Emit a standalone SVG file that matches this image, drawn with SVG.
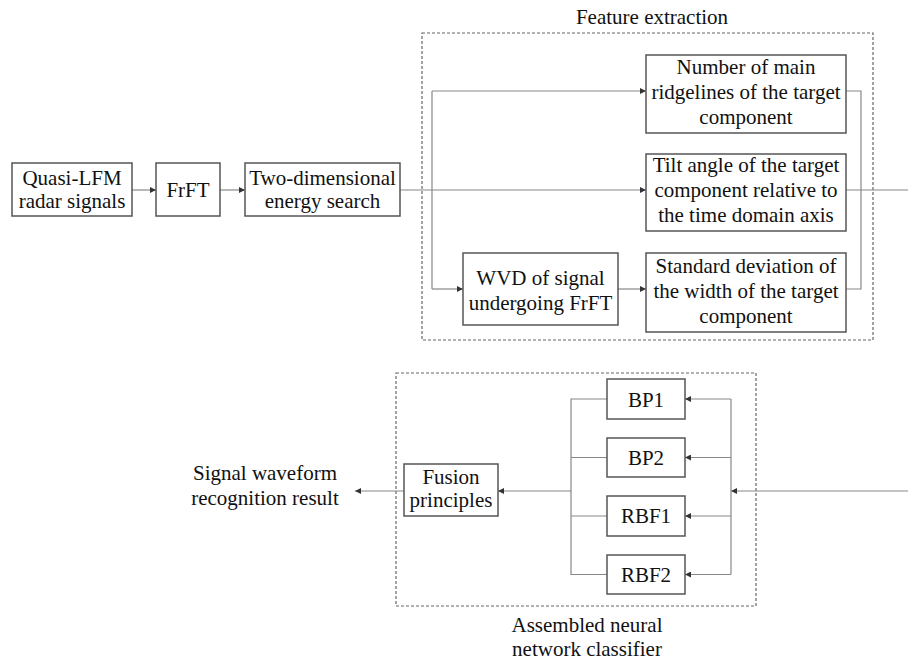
<svg xmlns="http://www.w3.org/2000/svg" width="908" height="662" viewBox="0 0 908 662">
  <defs>
    <marker id="arrow" viewBox="0 0 10 10" refX="10" refY="5" markerWidth="7" markerHeight="6" markerUnits="userSpaceOnUse" orient="auto">
      <path d="M0,0 L10,5 L0,10 z" fill="#333"/>
    </marker>
    <style>
      .box { fill: #fff; stroke: #555; stroke-width: 1.5; }
      .group { fill: none; stroke: #666; stroke-width: 1.2; stroke-dasharray: 3 2; }
      .line { fill: none; stroke: #888; stroke-width: 1.2; }
      .arr { marker-end: url(#arrow); }
      text { font-family: "Liberation Serif", "Times New Roman", serif; font-size: 21px; fill: #111; text-anchor: middle; }
    </style>
  </defs>
  <rect width="908" height="662" fill="#fff"/>

  <!-- dashed grouping frames -->
  <g id="feature-extraction">
    <rect class="group" x="422" y="33" width="451" height="307"/>
    <text x="652" y="24">Feature extraction</text>
  </g>
  <g id="classifier">
    <rect class="group" x="396" y="373" width="360" height="233"/>
    <text x="587" y="632">Assembled neural</text>
    <text x="587" y="656">network classifier</text>
  </g>

  <!-- connectors -->
  <g id="connectors">
    <path class="line arr" d="M132,190 H156"/>
    <path class="line arr" d="M220,190 H245"/>
    <path class="line arr" d="M400,190 H646"/>
    <path class="line" d="M432,91 V289"/>
    <path class="line arr" d="M432,91 H646"/>
    <path class="line arr" d="M432,289 H463"/>
    <path class="line arr" d="M618,289 H646"/>
    <path class="line" d="M846,91 H861 V289 H846"/>
    <path class="line" d="M846,190 H908"/>

    <path class="line arr" d="M908,491 H731"/>
    <path class="line" d="M731,399 V574.5"/>
    <path class="line arr" d="M731,399 H685"/>
    <path class="line arr" d="M731,457.5 H685"/>
    <path class="line arr" d="M731,516 H685"/>
    <path class="line arr" d="M731,574.5 H685"/>
    <path class="line" d="M607,399 H571 V574.5 H607"/>
    <path class="line" d="M571,457.5 H607"/>
    <path class="line" d="M571,516 H607"/>
    <path class="line arr" d="M571,491 H498"/>
    <path class="line arr" d="M404,491 H355"/>
  </g>

  <!-- processing chain -->
  <g id="quasi-lfm">
    <rect class="box" x="12" y="163" width="120" height="53"/>
    <text x="72" y="185">Quasi-LFM</text>
    <text x="72" y="208">radar signals</text>
  </g>
  <g id="frft">
    <rect class="box" x="156" y="163" width="64" height="53"/>
    <text x="188" y="197">FrFT</text>
  </g>
  <g id="energy-search">
    <rect class="box" x="245" y="163" width="155" height="53"/>
    <text x="322.5" y="185">Two-dimensional</text>
    <text x="322.5" y="208">energy search</text>
  </g>

  <!-- features -->
  <g id="ridgelines">
    <rect class="box" x="646" y="55" width="200" height="78"/>
    <text x="746" y="74">Number of main</text>
    <text x="746" y="99">ridgelines of the target</text>
    <text x="746" y="124">component</text>
  </g>
  <g id="tilt-angle">
    <rect class="box" x="646" y="154" width="200" height="77"/>
    <text x="746" y="172">Tilt angle of the target</text>
    <text x="746" y="197">component relative to</text>
    <text x="746" y="222">the time domain axis</text>
  </g>
  <g id="wvd">
    <rect class="box" x="463" y="253" width="155" height="72"/>
    <text x="540.5" y="285">WVD of signal</text>
    <text x="540.5" y="310">undergoing FrFT</text>
  </g>
  <g id="width-deviation">
    <rect class="box" x="646" y="253" width="200" height="79"/>
    <text x="746" y="273">Standard deviation of</text>
    <text x="746" y="298">the width of the target</text>
    <text x="746" y="323">component</text>
  </g>

  <!-- classifiers -->
  <g id="bp1">
    <rect class="box" x="607" y="379" width="78" height="40"/>
    <text x="646" y="407">BP1</text>
  </g>
  <g id="bp2">
    <rect class="box" x="607" y="438" width="78" height="39"/>
    <text x="646" y="465">BP2</text>
  </g>
  <g id="rbf1">
    <rect class="box" x="607" y="496" width="78" height="40"/>
    <text x="646" y="523">RBF1</text>
  </g>
  <g id="rbf2">
    <rect class="box" x="607" y="555" width="78" height="39"/>
    <text x="646" y="582">RBF2</text>
  </g>
  <g id="fusion">
    <rect class="box" x="404" y="464" width="94" height="52"/>
    <text x="451" y="484">Fusion</text>
    <text x="451" y="507">principles</text>
  </g>
  <g id="result">
    <text x="265" y="480">Signal waveform</text>
    <text x="265" y="505">recognition result</text>
  </g>
</svg>
